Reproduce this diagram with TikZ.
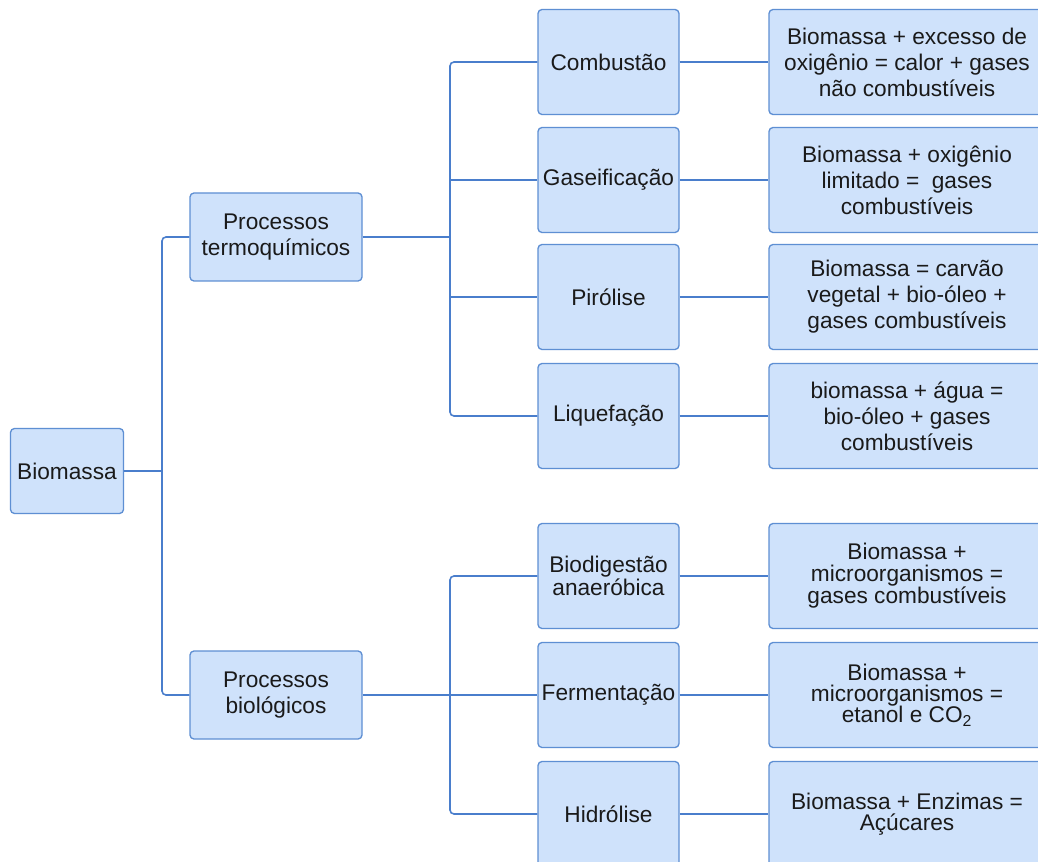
\documentclass[tikz,border=0pt]{standalone}
\usepackage{fontspec}
\setmainfont{Liberation Sans}
\definecolor{boxfill}{HTML}{CFE2FB}
\definecolor{boxline}{HTML}{5E8FD3}
\definecolor{linkcol}{HTML}{4A7ECC}
\definecolor{txt}{HTML}{1A1A1A}
\begin{document}
\begin{tikzpicture}[x=0.75pt,y=-0.75pt,
  box/.style={draw=boxline,fill=boxfill,rounded corners=3pt,line width=1pt,
    text=txt,align=center,inner sep=0pt,font=\fontsize{17}{19.5}\selectfont},
  rootbox/.style={box,minimum width=84.75pt,minimum height=63.75pt},
  groupbox/.style={box,minimum width=129pt,minimum height=66pt},
  procbox/.style={box,minimum width=105.75pt,minimum height=78.75pt},
  resbox/.style={box,minimum width=207pt,minimum height=78.75pt},
  tight/.style={font=\fontsize{17}{16}\selectfont},
  link/.style={draw=linkcol,line width=1.2pt,rounded corners=3pt}]
\useasboundingbox[fill=white] (0,0) rectangle (1038,862);

\node[rootbox] (bio) at (67,471) {Biomassa};

\node[groupbox] (termo) at (276,237) {Processos\\termoquímicos};
\node[groupbox] (biol) at (276,695) {Processos\\biológicos};

\node[procbox] (comb) at (608.5,62) {Combustão};
\node[procbox] (gas) at (608.5,180) {Gaseificação};
\node[procbox] (pir) at (608.5,297) {Pirólise};
\node[procbox] (liq) at (608.5,416) {Liquefação};
\node[procbox,tight] (dig) at (608.5,576) {Biodigestão\\anaeróbica};
\node[procbox] (ferm) at (608.5,695) {Fermentação};
\node[procbox] (hid) at (608.5,814) {Hidrólise};

\node[resbox] (rcomb) at (907,62) {Biomassa + excesso de\\oxigênio = calor + gases\\não combustíveis};
\node[resbox] (rgas) at (907,180) {Biomassa + oxigênio\\limitado = \ gases\\combustíveis};
\node[resbox] (rpir) at (907,297) {Biomassa = carvão\\vegetal + bio-óleo +\\gases combustíveis};
\node[resbox] (rliq) at (907,416) {biomassa + água =\\bio-óleo + gases\\combustíveis};
\node[resbox,tight] (rdig) at (907,576) {Biomassa +\\microorganismos =\\gases combustíveis};
\node[resbox,tight] (rferm) at (907,695) {Biomassa +\\microorganismos =\\etanol e CO\textsubscript{2}};
\node[resbox,tight] (rhid) at (907,814) {Biomassa + Enzimas =\\Açúcares};

\coordinate (bus1) at (162,471);
\coordinate (bus2) at (450,237);
\coordinate (bus3) at (450,695);

\draw[link] (bio.east) -- (bus1);
\draw[link] (termo.west) -| (bus1) |- (biol.west);

\draw[link] (termo.east) -- (bus2);
\draw[link] (comb.west) -| (bus2) |- (liq.west);
\draw[link] (bus2 |- gas.west) -- (gas.west);
\draw[link] (bus2 |- pir.west) -- (pir.west);

\draw[link] (biol.east) -- (bus3);
\draw[link] (dig.west) -| (bus3) |- (hid.west);
\draw[link] (bus3) -- (ferm.west);

\draw[link] (comb) -- (rcomb);
\draw[link] (gas) -- (rgas);
\draw[link] (pir) -- (rpir);
\draw[link] (liq) -- (rliq);
\draw[link] (dig) -- (rdig);
\draw[link] (ferm) -- (rferm);
\draw[link] (hid) -- (rhid);
\end{tikzpicture}
\end{document}
